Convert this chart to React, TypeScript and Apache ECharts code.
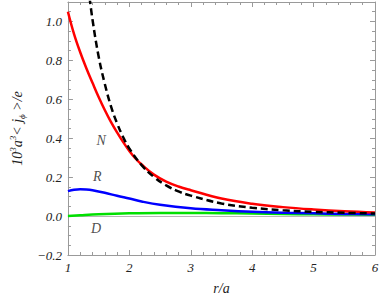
import React, { useEffect, useRef } from 'react';
import * as echarts from 'echarts';

// r/a sample positions and curve values
const rN = [1, 1.1, 1.2, 1.3, 1.4, 1.5, 1.6, 1.7, 1.8, 1.9, 2.0, 2.1, 2.2, 2.4, 2.6, 2.8, 3.0, 3.5, 4.0, 4.5, 5.0, 5.5, 6.0];
const jN = [1.05, 0.935, 0.842, 0.76, 0.685, 0.612, 0.545, 0.484, 0.43, 0.38, 0.335, 0.296, 0.265, 0.213, 0.177, 0.152, 0.133, 0.09, 0.063, 0.046, 0.034, 0.025, 0.019];

const rR = [1, 1.1, 1.2, 1.3, 1.4, 1.6, 1.8, 2.0, 2.2, 2.5, 3.0, 3.5, 4.0, 4.5, 5.0, 5.5, 6.0];
const jR = [0.128, 0.135, 0.138, 0.137, 0.133, 0.12, 0.104, 0.09, 0.075, 0.058, 0.04, 0.03, 0.022, 0.017, 0.014, 0.011, 0.009];

const rD = [1, 1.2, 1.5, 2.0, 2.5, 3.0, 3.5, 4.0, 4.5, 5.0, 5.5, 6.0];
const jD = [0.0, 0.004, 0.009, 0.014, 0.016, 0.016, 0.015, 0.013, 0.011, 0.009, 0.008, 0.007];

const rAsym = [1.33, 1.4, 1.5, 1.6, 1.7, 1.8, 1.9, 2.0, 2.2, 2.4, 2.6, 2.8, 3.0, 3.5, 4.0, 4.5, 5.0, 5.5, 6.0];
const jAsym = [1.18, 1.01, 0.82, 0.68, 0.565, 0.477, 0.405, 0.347, 0.262, 0.201, 0.158, 0.127, 0.105, 0.065, 0.043, 0.03, 0.022, 0.017, 0.013];

const curveLabels = ['N', 'R', 'D'];
const curveLabelX = [1.54, 1.48, 1.46];
const curveLabelY = [0.39, 0.205, -0.062];

const xMin = 1, xMax = 6, xStep = 1;
const yMin = -0.2, yMax = 1.1, yStep = 0.2;

const FONT = "'Liberation Serif', 'Times New Roman', serif";
const FRAME = '#9a9a9a';
const TEXT = '#222';

const zip = (xs: number[], ys: number[]) => xs.map((x, i) => [x, ys[i]]);

export default function App() {
  const ref = useRef<HTMLDivElement>(null);
  useEffect(() => {
    if (!ref.current) return;
    const chart = echarts.init(ref.current, undefined, { renderer: 'svg' });
    const axisCommon = {
      type: 'value' as const,
      axisLine: { show: true, onZero: false, lineStyle: { color: FRAME, width: 1 } },
      axisTick: { show: true, inside: true, length: 5, lineStyle: { color: FRAME, width: 1 } },
      splitLine: { show: false },
      minorSplitLine: { show: false },
    };
    const labelStyle = { fontFamily: FONT, fontStyle: 'italic' as const, fontSize: 13, color: TEXT };
    chart.setOption({
      animation: false,
      backgroundColor: '#fff',
      grid: { left: 59, right: 7, top: 2, bottom: 44, containLabel: false },
      xAxis: [
        {
          ...axisCommon,
          position: 'bottom',
          min: xMin, max: xMax, interval: xStep,
          minorTick: { show: true, splitNumber: 5, length: 3, lineStyle: { color: FRAME } },
          axisLabel: { ...labelStyle, margin: 6 },
          name: 'r/a',
          nameLocation: 'middle',
          nameGap: 26,
          nameTextStyle: { ...labelStyle, fontSize: 14 },
        },
        {
          ...axisCommon,
          position: 'top',
          min: xMin, max: xMax, interval: xStep,
          minorTick: { show: true, splitNumber: 5, length: 3, lineStyle: { color: FRAME } },
          axisLabel: { show: false },
        },
      ],
      yAxis: [
        {
          ...axisCommon,
          position: 'left',
          min: yMin, max: yMax, interval: yStep,
          minorTick: { show: true, splitNumber: 4, length: 3, lineStyle: { color: FRAME } },
          axisLabel: {
            ...labelStyle,
            margin: 6,
            showMaxLabel: false,
            formatter: (v: number) => (v > 1.05 ? '' : v.toFixed(1).replace('-', '\u2212')),
          },
          name: '{n|10}{s|3}{n|a}{s|3}{n|< j}{b|\u03d5}{n| >/e}',
          nameLocation: 'middle',
          nameGap: 41,
          nameRotate: 90,
          nameTextStyle: {
            rich: {
              n: { fontFamily: FONT, fontStyle: 'italic', fontSize: 14, color: TEXT, lineHeight: 18 },
              s: { fontFamily: FONT, fontStyle: 'italic', fontSize: 9, color: TEXT, verticalAlign: 'top', lineHeight: 18 },
              b: { fontFamily: FONT, fontStyle: 'italic', fontSize: 9, color: TEXT, verticalAlign: 'bottom', lineHeight: 18 },
            },
          },
        },
        {
          ...axisCommon,
          position: 'right',
          min: yMin, max: yMax, interval: yStep,
          minorTick: { show: true, splitNumber: 4, length: 3, lineStyle: { color: FRAME } },
          axisLabel: { show: false },
        },
      ],
      series: [
        {
          type: 'line',
          name: 'D',
          data: zip(rD, jD),
          smooth: 0.4,
          showSymbol: false,
          lineStyle: { color: '#00e000', width: 2.5 },
          z: 3,
          markLine: {
            silent: true,
            symbol: 'none',
            label: { show: false },
            lineStyle: { color: '#b5b5b5', width: 1, type: 'solid' },
            data: [{ yAxis: 0 }],
            z: 1,
          },
        },
        {
          type: 'line',
          name: 'R',
          data: zip(rR, jR),
          smooth: 0.4,
          showSymbol: false,
          lineStyle: { color: '#0000ff', width: 2.5 },
          z: 4,
        },
        {
          type: 'line',
          name: 'N',
          data: zip(rN, jN),
          smooth: 0.4,
          showSymbol: false,
          lineStyle: { color: '#ff0000', width: 2.5 },
          z: 5,
        },
        {
          type: 'line',
          name: 'asym',
          data: zip(rAsym, jAsym),
          smooth: 0.4,
          showSymbol: false,
          lineStyle: { color: '#000', width: 2.5, type: [7, 4] },
          z: 6,
        },
        {
          type: 'scatter',
          symbolSize: 0,
          data: curveLabels.map((t, i) => ({ value: [curveLabelX[i], curveLabelY[i]], name: t })),
          label: {
            show: true,
            position: 'inside',
            formatter: (p: any) => p.name,
            ...labelStyle,
            fontSize: 14,
          },
          z: 7,
        },
      ],
    });
    return () => chart.dispose();
  }, []);
  return <div ref={ref} style={{ width: 382, height: 300, position: 'absolute', left: 0, top: 0 }} />;
}
